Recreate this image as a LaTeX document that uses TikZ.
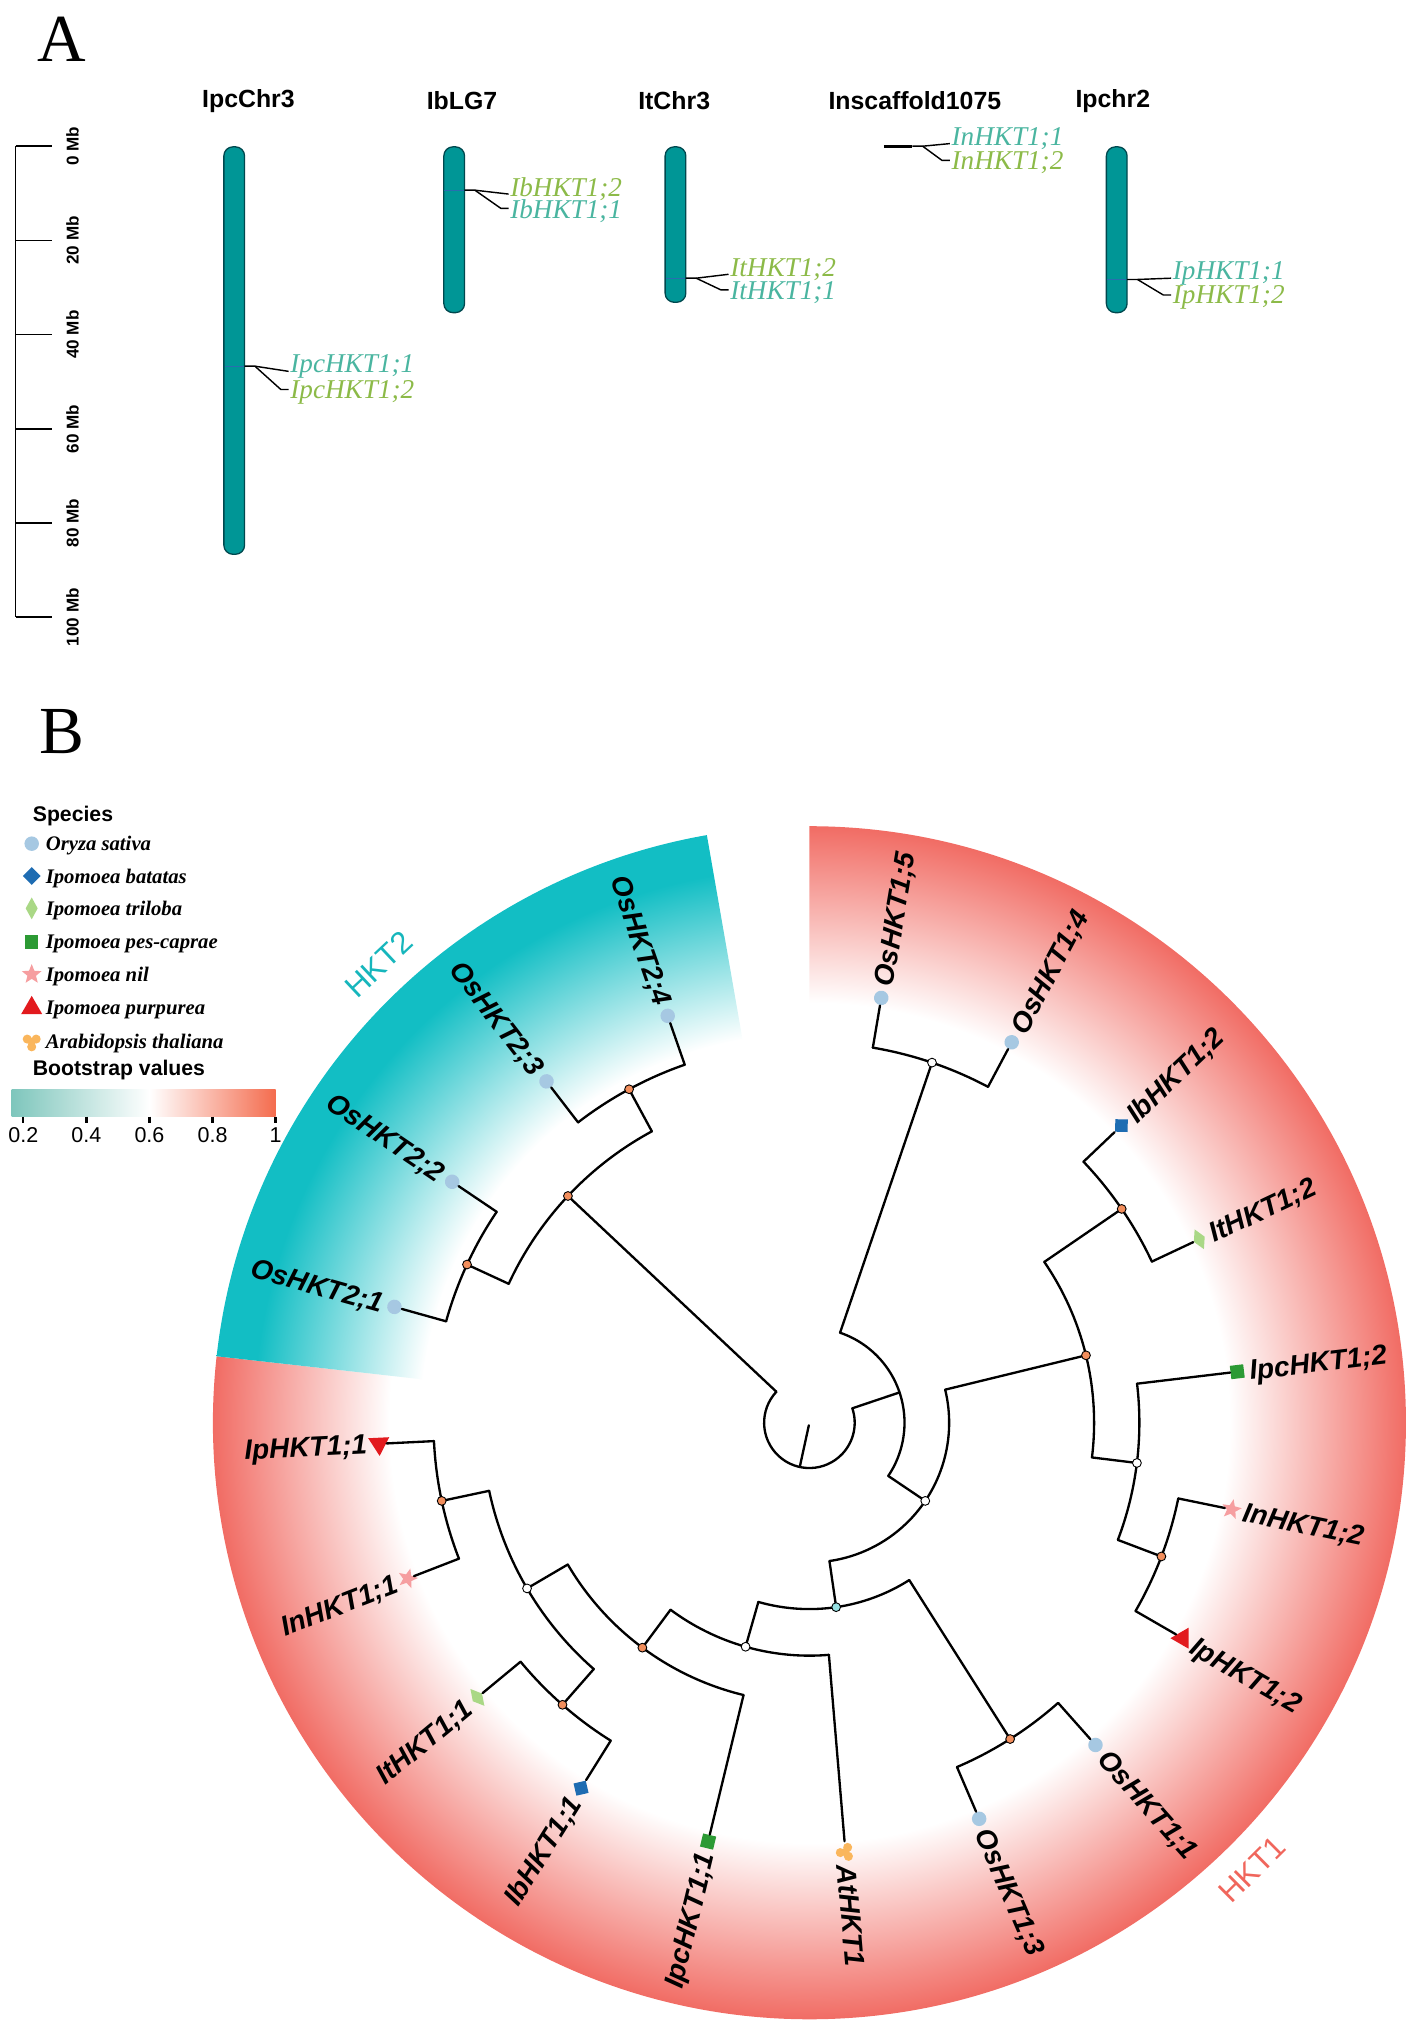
\documentclass[tikz,border=0pt]{standalone}
\usepackage{fontspec}
\setmainfont{Liberation Serif}
\setsansfont{Liberation Sans}
\usetikzlibrary{calc}
\usetikzlibrary{positioning}
\usetikzlibrary{shapes.geometric}
%% Colours of the chromosome map.
\definecolor{chromTeal}{RGB}{0,150,150}
\definecolor{chromEdge}{RGB}{0,72,78}
\definecolor{geneTeal}{RGB}{74,181,160}
\definecolor{geneGreen}{RGB}{140,186,72}
\definecolor{markBlue}{RGB}{40,110,175}
%% Colours of the tree.
\definecolor{ringRed}{RGB}{241,108,100}
\definecolor{ringTeal}{RGB}{18,190,196}
\definecolor{barTeal}{RGB}{126,198,188}
\definecolor{barRed}{RGB}{244,108,78}
\definecolor{osaBlue}{RGB}{166,200,226}
\definecolor{ibaBlue}{RGB}{30,108,178}
\definecolor{itrGreen}{RGB}{170,216,134}
\definecolor{ipcGreen}{RGB}{44,154,52}
\definecolor{inilPink}{RGB}{246,158,160}
\definecolor{ipuRed}{RGB}{226,26,30}
\definecolor{athOrange}{RGB}{250,182,92}
\definecolor{nodeOrange}{RGB}{242,142,92}
\definecolor{nodeCyan}{RGB}{150,226,228}
\definecolor{hktTwoText}{RGB}{22,182,188}
\definecolor{hktOneText}{RGB}{240,102,92}
%% 25bp of a shading is the radius of the shaded circle.
\pgfdeclareradialshading{hktOneShade}{\pgfpointorigin}{color(0bp)=(white); color(17.6bp)=(white); color(25bp)=(ringRed); color(50bp)=(ringRed)}
\pgfdeclareradialshading{hktTwoShade}{\pgfpointorigin}{color(0bp)=(white); color(16.3bp)=(white); color(23.3bp)=(ringTeal); color(50bp)=(ringTeal)}
%% Fonts.
\newcommand{\panelFont}{\fontsize{26}{26}\selectfont\rmfamily}
\newcommand{\chromFont}{\fontsize{9.6}{11}\selectfont\sffamily\bfseries}
\newcommand{\geneFont}{\fontsize{10.5}{12}\selectfont\rmfamily\itshape}
\newcommand{\tickFont}{\fontsize{6.6}{8}\selectfont\sffamily\bfseries}
\newcommand{\leafFont}{\fontsize{10.8}{12}\selectfont\sffamily\bfseries\itshape}
\newcommand{\legendFont}{\fontsize{8}{9}\selectfont\rmfamily\bfseries\itshape}
\newcommand{\legendHead}{\fontsize{8.2}{9}\selectfont\sffamily\bfseries}
\newcommand{\barFont}{\fontsize{8.3}{9}\selectfont\sffamily}
\newcommand{\cladeFont}{\fontsize{12}{13}\selectfont\sffamily}
\newcommand{\chromosome}[6]{%%
  %% #1 name, #2 centre x, #3 length in Mb, #4 title, #5 title x, #6 gene y
  \node[chromBar, minimum height=#3*1.82pt] (#1) at (#2,\chromTop) {};
  \node[chromTitle] (#1-title) at (#5,\titleY) {#4};
  \draw[geneMark] (#2-7.5,#6) -- (#2+7.5,#6);
}
\newcommand{\geneLeader}[8]{%%
  %% #1 name, #2 edge x, #3 gene y, #4 label x, #5/#6 upper label and y, #7/#8 lower label and y
  \coordinate (#1-edge) at (#2,#3);
  \coordinate (#1-knee) at (#2+8,#3);
  \coordinate (#1-upEnd) at (#4-1,#6+4);
  \coordinate (#1-lowBend) at (#4-7,#8-2);
  \coordinate (#1-lowEnd) at (#4-1,#8-2);
  \node[geneLabel] (#1-up) at (#4,#6) {#5};
  \node[geneLabel] (#1-low) at (#4,#8) {#7};
  \draw[leaderLine] (#1-edge) -- (#1-knee) -- (#1-upEnd);
  \draw[leaderLine] (#1-knee) -- (#1-lowBend) -- (#1-lowEnd);
}
\newcommand{\treePoint}[3]{%%
  \coordinate (#1) at ($(ctr)+(#2:#3)$);
}
\newcommand{\clade}[6]{%%
  %% #1 node, #2 its radius, #3/#4 first child and angle, #5/#6 second child and angle
  \coordinate (#1-a) at ($(ctr)+(#4:#2)$);
  \coordinate (#1-b) at ($(ctr)+(#6:#2)$);
  \draw[branchStyle] (#1-a) arc[start angle=#4, end angle=#6, radius=#2];
  \draw[branchStyle] (#1-a) -- (#3);
  \draw[branchStyle] (#1-b) -- (#5);
}
\newcommand{\leafRight}[4]{%%
  \node[#3, rotate=#2] (#1) at ($(ctr)+(#2:\tipRadius)$) {};
  \node[leafLabel, rotate=#2, anchor=west] (#1-text) at ($(ctr)+(#2:\labelRadius)$) {#4};
}
\newcommand{\leafLeft}[4]{%%
  \node[#3, rotate=#2] (#1) at ($(ctr)+(#2:\tipRadius)$) {};
  \node[leafLabel, rotate=#2+180, anchor=east] (#1-text) at ($(ctr)+(#2:\labelRadius)$) {#4};
}
\begin{document}
\begin{tikzpicture}[x=0.5pt,y=0.5pt,%%
  panelLetter/.style={font=\panelFont,inner sep=0pt},%%
  chromBar/.style={rectangle,rounded corners=3.5pt,draw=chromEdge,fill=chromTeal,line width=0.5pt,minimum width=8pt,inner sep=0pt,anchor=north},%%
  chromTitle/.style={font=\chromFont,inner sep=0pt},%%
  geneMark/.style={draw=markBlue,line width=0.4pt},%%
  geneLabel/.style={font=\geneFont,anchor=west,inner sep=0pt},%%
  leaderLine/.style={line width=0.55pt},%%
  scaleLine/.style={line width=0.6pt},%%
  tickLabel/.style={font=\tickFont,inner sep=0pt,rotate=90},%%
  branchStyle/.style={line width=0.9pt,line cap=round,line join=round},%%
  nodeDot/.style={circle,draw=black,line width=0.35pt,inner sep=0pt,minimum size=3.4pt},%%
  leafLabel/.style={font=\leafFont,inner sep=0pt,text depth=0pt},%%
  cladeLabel/.style={font=\cladeFont,inner sep=0pt},%%
  legendText/.style={font=\legendFont,anchor=west,inner sep=0pt,text depth=0pt},%%
  legendTitle/.style={font=\legendHead,anchor=west,inner sep=0pt},%%
  barLabel/.style={font=\barFont,inner sep=0pt},%%
  osMark/.style={circle,fill=osaBlue,inner sep=0pt,minimum size=5.6pt},%%
  ibMark/.style={diamond,fill=ibaBlue,inner sep=0pt,minimum width=7pt,minimum height=7pt},%%
  itMark/.style={diamond,fill=itrGreen,inner sep=0pt,minimum width=4.8pt,minimum height=8.6pt},%%
  ipcMark/.style={rectangle,fill=ipcGreen,inner sep=0pt,minimum size=5.2pt},%%
  inMark/.style={star,star points=5,star point ratio=2.3,fill=inilPink,inner sep=0pt,minimum size=8pt},%%
  ipMark/.style={regular polygon,regular polygon sides=3,fill=ipuRed,inner sep=0pt,minimum size=9.4pt},%%
  atMark/.style={circle,inner sep=0pt,minimum size=8pt,path picture={%%
    \fill[athOrange] (path picture bounding box.center) circle[radius=1.6pt];
    \foreach \lobe in {30,150,270}
      {\fill[athOrange] (path picture bounding box.center) ++(\lobe:2pt) circle[radius=1.75pt];}}}%%
]
\useasboundingbox (0,0) rectangle (1095,1568);
%%
%%
\pgfmathsetmacro{\chromTop}{113}
\pgfmathsetmacro{\titleY}{78}
\pgfmathsetmacro{\tipRadius}{333}
\pgfmathsetmacro{\labelRadius}{342}
\pgfmathsetmacro{\ringRadius}{461}
%% Panel A and the legend, in picture pixels counted from the top.
\begin{scope}[shift={(0,1568)},yscale=-1]
  \node[panelLetter] (letterA) at (48,30) {A};
  \node[panelLetter] (letterB) at (48,565) {B};
  %% The Mb scale.
  \coordinate (scaleTop) at (12,113);
  \coordinate (scaleBottom) at (12,477);
  \draw[scaleLine] (scaleTop) -- (scaleBottom);
  \foreach \mb in {0,20,...,100} {
    \pgfmathsetmacro{\tickY}{113+\mb*3.64}
    \coordinate (tickIn\mb) at (12,\tickY);
    \coordinate (tickOut\mb) at (40,\tickY);
    \draw[scaleLine] (tickIn\mb) -- (tickOut\mb);
    \node[tickLabel] (tick\mb) at (56,\tickY) {\mb\ Mb};
  }
  %% The chromosomes.
  \chromosome{chrIpc}{181}{86.5}{IpcChr3}{192}{283}
  \chromosome{chrIb}{351}{35.2}{IbLG7}{357}{147}
  \chromosome{chrIt}{522}{33}{ItChr3}{521}{215}
  \chromosome{chrIp}{863}{35.2}{Ipchr2}{860}{216}
  \node[chromTitle] (chrIn-title) at (707,\titleY) {Inscaffold1075};
  \coordinate (chrInLeft) at (683,113);
  \coordinate (chrInRight) at (705,113);
  \draw[line width=1.3pt] (chrInLeft) -- (chrInRight);
  %% The genes.
  \geneLeader{ipc}{189}{283}{224}{\textcolor{geneTeal}{IpcHKT1;1}}{283}{\textcolor{geneGreen}{IpcHKT1;2}}{303}
  \geneLeader{ib}{359}{147}{394}{\textcolor{geneGreen}{IbHKT1;2}}{146}{\textcolor{geneTeal}{IbHKT1;1}}{163}
  \geneLeader{it}{530}{215}{564}{\textcolor{geneGreen}{ItHKT1;2}}{208}{\textcolor{geneTeal}{ItHKT1;1}}{226}
  \geneLeader{in}{705}{113}{735}{\textcolor{geneTeal}{InHKT1;1}}{107}{\textcolor{geneGreen}{InHKT1;2}}{126}
  \geneLeader{ip}{871}{216}{906}{\textcolor{geneTeal}{IpHKT1;1}}{211}{\textcolor{geneGreen}{IpHKT1;2}}{230}
  %% The legend.
  \node[legendTitle] (speciesTitle) at (25,631) {Species};
  \foreach \legY/\legMark/\legName [count=\legI] in {652/osMark/Oryza sativa,677/ibMark/Ipomoea batatas,702/itMark/Ipomoea triloba,728/ipcMark/Ipomoea pes-caprae,753/inMark/Ipomoea nil,779/ipMark/Ipomoea purpurea,805/atMark/Arabidopsis thaliana} {
    \node[\legMark] (leg\legI) at (24.5,\legY) {};
    \node[legendText] (leg\legI-text) at (35,\legY) {\legName};
  }
  \node[legendTitle] (bootTitle) at (25,827) {Bootstrap values};
  \shade[left color=barTeal,right color=white] (9,842) rectangle (115.5,863);
  \shade[left color=white,right color=barRed] (115.5,842) rectangle (213,863);
  \foreach \val/\txt [count=\barI] in {0.2/0.2,0.4/0.4,0.6/0.6,0.8/0.8,1/1} {
    \pgfmathsetmacro{\barX}{18+(\val-0.2)*243.75}
    \coordinate (barTickA\barI) at (\barX,863);
    \coordinate (barTickB\barI) at (\barX,868);
    \draw[line width=0.9pt] (barTickA\barI) -- (barTickB\barI);
    \node[barLabel] (barText\barI) at (\barX,877) {\txt};
  }
\end{scope}
%%
%%
%% Panel B: the circular tree.
\coordinate (ctr) at (625.5,468.5);
%% Coloured sectors of the two groups.
\begin{scope}
  \clip (ctr) -- ($(ctr)+(90:\ringRadius)$) arc[start angle=90, end angle=-186.4, radius=\ringRadius] -- cycle;
  \shade[shading=hktOneShade] (ctr) circle[radius=\ringRadius];
\end{scope}
\begin{scope}
  \clip (ctr) -- ($(ctr)+(99.9:\ringRadius)$) arc[start angle=99.9, end angle=173.6, radius=\ringRadius] -- cycle;
  \shade[shading=hktTwoShade] (ctr) circle[radius=\ringRadius];
\end{scope}
\node[cladeLabel, text=hktTwoText, rotate=43.2] (hktTwo) at ($(ctr)+(133.2:486)$) {HKT2};
\node[cladeLabel, text=hktOneText, rotate=44.75] (hktOne) at ($(ctr)+(-45.25:486)$) {HKT1};
%% Leaves, clockwise from the top.
\leafRight{osa15}{80.4}{osMark}{OsHKT1;5}
\leafRight{osa14}{62.0}{osMark}{OsHKT1;4}
\leafRight{iba12}{43.6}{ibMark}{IbHKT1;2}
\leafRight{itr12}{25.2}{itMark}{ItHKT1;2}
\leafRight{ipc12}{6.8}{ipcMark}{IpcHKT1;2}
\leafRight{inil12}{-11.6}{inMark}{InHKT1;2}
\leafRight{ipu12}{-30.0}{ipMark}{IpHKT1;2}
\leafRight{osa11}{-48.4}{osMark}{OsHKT1;1}
\leafRight{osa13}{-66.8}{osMark}{OsHKT1;3}
\leafRight{ath1}{-85.2}{atMark}{AtHKT1}
\leafLeft{ipc11}{-103.6}{ipcMark}{IpcHKT1;1}
\leafLeft{iba11}{-122.0}{ibMark}{IbHKT1;1}
\leafLeft{itr11}{-140.4}{itMark}{ItHKT1;1}
\leafLeft{inil11}{-158.8}{inMark}{InHKT1;1}
\leafLeft{ipu11}{-177.2}{ipMark}{IpHKT1;1}
\leafLeft{osa21}{-195.6}{osMark}{OsHKT2;1}
\leafLeft{osa22}{-214.0}{osMark}{OsHKT2;2}
\leafLeft{osa23}{-232.4}{osMark}{OsHKT2;3}
\leafLeft{osa24}{-250.8}{osMark}{OsHKT2;4}
%% Inner nodes: angle, radius.
\treePoint{nA1}{71.2}{294}
\treePoint{nA2}{34.4}{292.5}
\treePoint{nA5}{-20.8}{291}
\treePoint{nA4}{-7.0}{255}
\treePoint{nA3}{13.7}{220}
\treePoint{nC}{-57.6}{289.5}
\treePoint{nH2}{-131.2}{289.7}
\treePoint{nG}{-168.0}{290.5}
\treePoint{nF}{-149.6}{253}
\treePoint{nE}{-126.6}{216.5}
\treePoint{nD}{-105.9}{180}
\treePoint{nB}{-81.75}{144}
\treePoint{nR}{-34.0}{108}
\treePoint{nH}{18.6}{73.5}
\treePoint{nL}{-241.6}{293}
\treePoint{nM}{-204.8}{291.5}
\treePoint{nK}{-223.2}{256}
\treePoint{root}{-102.3}{35}
\treePoint{rootIn}{-102.3}{2}
%% Branches.
\clade{nA1}{294}{osa15}{80.4}{osa14}{62.0}
\clade{nA2}{292.5}{iba12}{43.6}{itr12}{25.2}
\clade{nA5}{291}{inil12}{-11.6}{ipu12}{-30.0}
\clade{nA4}{255}{ipc12}{6.8}{nA5}{-20.8}
\clade{nA3}{220}{nA2}{34.4}{nA4}{-7.0}
\clade{nC}{289.5}{osa11}{-48.4}{osa13}{-66.8}
\clade{nH2}{289.7}{iba11}{-122.0}{itr11}{-140.4}
\clade{nG}{290.5}{inil11}{-158.8}{ipu11}{-177.2}
\clade{nF}{253}{nH2}{-131.2}{nG}{-168.0}
\clade{nE}{216.5}{ipc11}{-103.6}{nF}{-149.6}
\clade{nD}{180}{ath1}{-85.2}{nE}{-126.6}
\clade{nB}{144}{nC}{-57.6}{nD}{-105.9}
\clade{nR}{108}{nA3}{13.7}{nB}{-81.75}
\clade{nH}{73.5}{nA1}{71.2}{nR}{-34.0}
\clade{nL}{293}{osa23}{-232.4}{osa24}{-250.8}
\clade{nM}{291.5}{osa21}{-195.6}{osa22}{-214.0}
\clade{nK}{256}{nL}{-241.6}{nM}{-204.8}
\clade{root}{35}{nK}{-223.2}{nH}{18.6}
\draw[branchStyle] (rootIn) -- (root);
%% Bootstrap dots.
\foreach \dotName/\dotFill in {nA1/white,nA2/nodeOrange,nA3/nodeOrange,nA4/white,nA5/nodeOrange,nR/white,nC/nodeOrange,nB/nodeCyan,nD/white,nE/nodeOrange,nF/white,nG/nodeOrange,nH2/nodeOrange,nK/nodeOrange,nL/nodeOrange,nM/nodeOrange}
  \node[nodeDot, fill=\dotFill] (\dotName-dot) at (\dotName) {};
\end{tikzpicture}
\end{document}
